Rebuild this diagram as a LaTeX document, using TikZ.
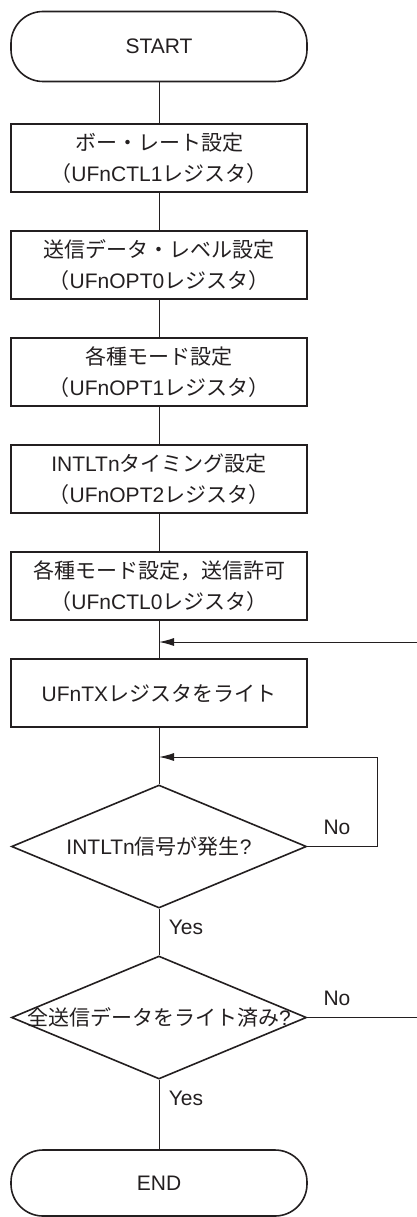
\documentclass[tikz,border=0pt]{standalone}
\usepackage{fontspec}
\setmainfont{Liberation Sans}
\newfontfamily\cjk{Noto Sans CJK JP}
\usetikzlibrary{shapes.geometric,arrows.meta}
\definecolor{ink}{HTML}{231F20}
\begin{document}
\begin{tikzpicture}[x=1pt,y=-1pt,
  font=\fontsize{21}{31}\selectfont, text=ink,
  proc/.style={draw=ink, line width=2pt, minimum width=296pt, minimum height=68pt, align=center, inner sep=0pt},
  term/.style={draw=ink, line width=1.6pt, rounded corners=32pt, minimum width=296pt, minimum height=70pt, inner sep=0pt},
  dec/.style={draw=ink, diamond, line width=1.6pt, minimum width=295pt, minimum height=123pt, inner sep=0pt},
  conn/.style={draw=ink, line width=1pt},
  arr/.style={conn, -{Latex[length=15pt,width=8pt]}},
  lbl/.style={inner sep=0pt}]
\useasboundingbox (0,0) rectangle (417,1217);
\node[term] (start) at (159,46.5) {START};
\node[proc] (b1) at (159,158) {{\cjk ボー・レート設定}\\{\cjk （}UFnCTL1{\cjk レジスタ）}};
\node[proc] (b2) at (159,265) {{\cjk 送信データ・レベル設定}\\{\cjk （}UFnOPT0{\cjk レジスタ）}};
\node[proc] (b3) at (159,372) {{\cjk 各種モード設定}\\{\cjk （}UFnOPT1{\cjk レジスタ）}};
\node[proc] (b4) at (159,479) {INTLTn{\cjk タイミング設定}\\{\cjk （}UFnOPT2{\cjk レジスタ）}};
\node[proc] (b5) at (159,586) {{\cjk 各種モード設定，送信許可}\\{\cjk （}UFnCTL0{\cjk レジスタ）}};
\node[proc] (b6) at (159,693) {UFnTX{\cjk レジスタをライト}};
\coordinate (m1) at (159,642);
\coordinate (m1r) at (417,642);
\coordinate (m2) at (159,757);
\coordinate (m2r) at (377,757);
\node[dec] (d1) at (159,846.5) {};
\node (t1) at (d1.center) {INTLTn{\cjk 信号が発生}?};
\node[dec] (d2) at (159,1017.5) {};
\node (t2) at (d2.center) {{\cjk 全送信データをライト済み}?};
\node[term, minimum height=66pt] (end) at (159,1183) {END};
\node[lbl] (no1) at (337,827) {No};
\node[lbl] (yes1) at (186,927) {Yes};
\node[lbl] (no2) at (337,998) {No};
\node[lbl] (yes2) at (186,1098) {Yes};
\draw[conn] (start) -- (b1);
\draw[conn] (b1) -- (b2);
\draw[conn] (b2) -- (b3);
\draw[conn] (b3) -- (b4);
\draw[conn] (b4) -- (b5);
\draw[conn] (b5) -- (b6);
\draw[arr] (m1r) -- (m1);
\draw[conn] (b6) -- (d1);
\draw[arr] (d1.east) -- (d1.east -| m2r) -- (m2r) -- (m2);
\draw[conn] (d1) -- (d2);
\draw[conn] (d2.east) -- (d2.east -| m1r);
\draw[conn] (d2) -- (end);
\end{tikzpicture}
\end{document}
